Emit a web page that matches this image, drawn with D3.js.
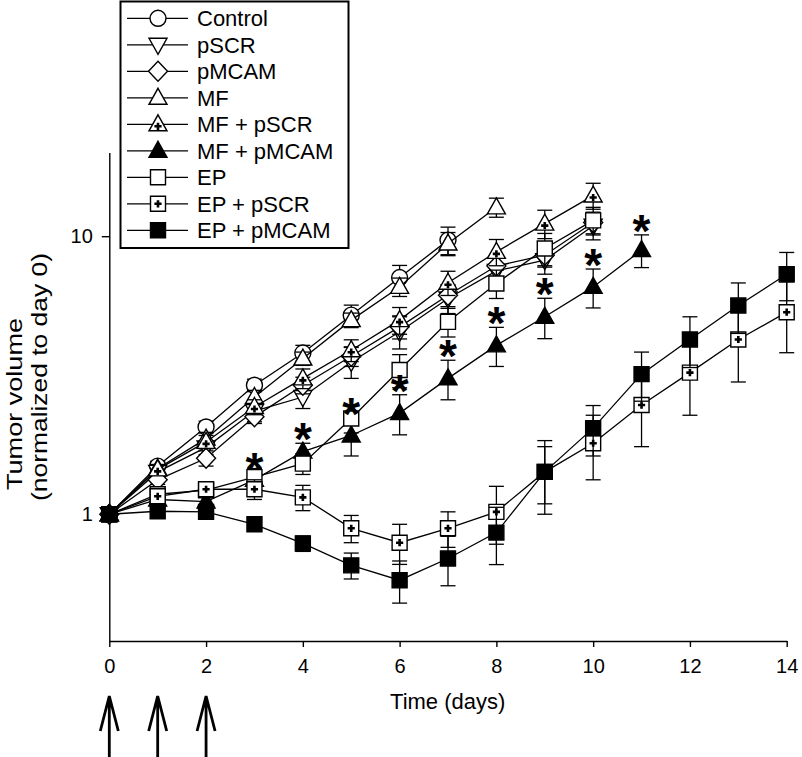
<!DOCTYPE html>
<html>
<head>
<meta charset="utf-8">
<script src="https://cdn.jsdelivr.net/npm/d3@7"></script>
<style>
  html, body { margin: 0; padding: 0; background: #fff; }
  svg { display: block; }
  text { font-family: "Liberation Sans", Arial, Helvetica, sans-serif; fill: #000; }
</style>
</head>
<body>
<svg id="chart" width="802" height="757"></svg>
<script>
// ---------------- data ----------------
const days = [0,1,2,3,4,5,6,7,8,9,10,11,12,13,14];
const seriesNames = ["Control","pSCR","pMCAM","MF","MF + pSCR","MF + pMCAM","EP","EP + pSCR","EP + pMCAM"];

const controlVals = [1, 1.49, 2.06, 2.91, 3.80, 5.20, 7.10, 9.68];
const controlErr  = [0, 0.06, 0.10, 0.15, 0.25, 0.45, 0.75, 1.10];

const pSCRVals = [1, 1.42, 1.74, 2.35, 2.64, 3.53, 4.53, 5.97, 7.50, 8.20, 10.9];
const pSCRErr  = [0, 0.05, 0.10, 0.20, 0.24, 0.45, 0.60, 0.70, 0.85, 0.90, 1.20];

const pMCAMVals = [1, 1.33, 1.59, 2.24, 2.91, 3.70, 4.72, 6.13, 7.81, 8.54, 11.2];
const pMCAMErr  = [0, 0.05, 0.10, 0.12, 0.20, 0.30, 0.45, 0.55, 0.70, 0.80, 1.00];

const mfVals = [1, 1.46, 1.87, 2.64, 3.63, 4.99, 6.57, 9.41, 12.7];
const mfErr  = [0, 0.05, 0.10, 0.15, 0.20, 0.30, 0.50, 0.90, 1.00];

const mfSCRVals = [1, 1.45, 1.82, 2.43, 3.08, 3.89, 4.99, 6.80, 8.78, 11.1, 14.0];
const mfSCRErr  = [0, 0.05, 0.10, 0.15, 0.25, 0.35, 0.55, 0.68, 0.95, 1.30, 1.50];

const mfMCAMVals = [1, 1.13, 1.11, 1.33, 1.68, 1.92, 2.31, 3.08, 4.05, 5.13, 6.57, 8.91];
const mfMCAMErr  = [0, 0.03, 0.04, 0.08, 0.12, 0.30, 0.38, 0.50, 0.65, 0.85, 1.05, 1.20];

const epVals = [1, 1.18, 1.22, 1.36, 1.52, 2.21, 3.30, 4.92, 6.76, 9.03, 11.4];
const epErr  = [0, 0.04, 0.05, 0.10, 0.13, 0.25, 0.45, 0.58, 0.79, 1.20, 1.30];

const epSCRVals = [1, 1.16, 1.23, 1.23, 1.15, 0.89, 0.79, 0.89, 1.02, 1.42, 1.80, 2.47, 3.23, 4.25, 5.33];
const epSCRErr  = [0, 0.04, 0.05, 0.10, 0.12, 0.10, 0.13, 0.13, 0.24, 0.33, 0.47, 0.72, 0.96, 1.26, 1.52];

const epMCAMVals = [1, 1.025, 1.02, 0.92, 0.785, 0.655, 0.579, 0.693, 0.859, 1.42, 2.04, 3.19, 4.25, 5.63, 7.30];
const epMCAMErr  = [0, 0.03, 0.03, 0.03, 0.05, 0.07, 0.10, 0.14, 0.20, 0.42, 0.42, 0.64, 0.88, 1.16, 1.44];

const sigDays = [3,4,5,6,7,8,9,10,11];       // asterisks over MF + pMCAM
const treatmentDays = [0,1,2];               // arrows under the axis
const xTicks = [0,2,4,6,8,10,12,14];
const yTicks = [1,10];

// marker styles per series (shape, filled, plus)
const markerStyles = [
  {shape:"circle", fill:false, plus:false},
  {shape:"tridown", fill:false, plus:false},
  {shape:"diamond", fill:false, plus:false},
  {shape:"triup", fill:false, plus:false},
  {shape:"triup", fill:false, plus:true},
  {shape:"triup", fill:true, plus:false},
  {shape:"square", fill:false, plus:false},
  {shape:"square", fill:false, plus:true},
  {shape:"square", fill:true, plus:false}
];
const valsList = [controlVals,pSCRVals,pMCAMVals,mfVals,mfSCRVals,mfMCAMVals,epVals,epSCRVals,epMCAMVals];
const errList  = [controlErr,pSCRErr,pMCAMErr,mfErr,mfSCRErr,mfMCAMErr,epErr,epSCRErr,epMCAMErr];

const series = seriesNames.map((name,i) => ({
  name,
  style: markerStyles[i],
  points: valsList[i].map((v,j) => ({day: days[j], v, e: errList[i][j]}))
}));

// ---------------- drawing ----------------
const svg = d3.select("#chart");
svg.append("rect").attr("width",802).attr("height",757).attr("fill","#fff");

const x = d3.scaleLinear().domain([0,14]).range([109.3, 786.7]);
const y = d3.scaleLog().domain([0.35, 20]).range([641, 152.5]);

// axes
const xAxis = svg.append("g").attr("transform","translate(0,641)")
  .call(d3.axisBottom(x).tickValues(xTicks).tickSize(6).tickSizeOuter(0).tickPadding(12).tickFormat(d3.format("d")));
const yAxis = svg.append("g").attr("transform","translate(109.3,0)")
  .call(d3.axisLeft(y).tickValues(yTicks).tickSize(7.5).tickSizeOuter(0).tickPadding(9).tickFormat(d3.format("d")));
[xAxis,yAxis].forEach(a => {
  a.selectAll("path.domain").attr("stroke","#000").attr("stroke-width",1.4);
  a.selectAll(".tick line").attr("stroke","#000").attr("stroke-width",1.4);
  a.selectAll(".tick text").attr("font-size",20).attr("fill","#000")
    .attr("font-family","Liberation Sans, Arial, sans-serif");
});

// axis titles
svg.append("text").attr("x",447.7).attr("y",708.5).attr("text-anchor","middle")
  .attr("font-size",22).text("Time (days)");
const yt = svg.append("g").attr("transform","rotate(-90)");
yt.append("text").attr("x",-404).attr("y",22).attr("text-anchor","middle")
  .attr("font-size",21.5).attr("textLength",172).attr("lengthAdjust","spacingAndGlyphs")
  .text("Tumor volume");
yt.append("text").attr("x",-377).attr("y",46.5).attr("text-anchor","middle")
  .attr("font-size",21.5).attr("textLength",248).attr("lengthAdjust","spacingAndGlyphs")
  .text("(normalized to day 0)");

// marker helpers
function shapePath(shape){
  switch(shape){
    case "triup":   return "M0,-9.5L9,6.5L-9,6.5Z";
    case "tridown": return "M0,9.5L9,-6.5L-9,-6.5Z";
    case "diamond": return "M0,-10L9.5,0L0,10L-9.5,0Z";
    case "square":  return "M-7.5,-7.5H7.5V7.5H-7.5Z";
  }
  return null;
}
function drawMarker(g, style){
  if (style.shape === "circle") {
    g.append("circle").attr("r",8);
  } else {
    g.append("path").attr("d",shapePath(style.shape));
  }
  g.selectAll("circle,path")
    .attr("fill", style.fill ? "#000" : "#fff")
    .attr("stroke","#000").attr("stroke-width",1.4);
  if (style.plus) {
    const cy = style.shape === "triup" ? 2 : 0;
    g.append("path").attr("d",`M-3.6,${cy}H3.6M0,${cy-3.6}V${cy+3.6}`)
      .attr("stroke","#000").attr("stroke-width",2.6).attr("fill","none");
  }
}

const line = d3.line().x(d => x(d.day)).y(d => y(d.v));

series.forEach(s => {
  const g = svg.append("g");
  g.append("path").datum(s.points).attr("d",line)
    .attr("fill","none").attr("stroke","#000").attr("stroke-width",1.3);
  // error bars
  const eb = g.selectAll("g.eb").data(s.points.filter(p => p.e > 0)).join("g");
  eb.append("line")
    .attr("x1",d=>x(d.day)).attr("x2",d=>x(d.day))
    .attr("y1",d=>y(d.v+d.e)).attr("y2",d=>y(Math.max(d.v-d.e,0.36)))
    .attr("stroke","#000").attr("stroke-width",1.3);
  eb.append("line")
    .attr("x1",d=>x(d.day)-7.5).attr("x2",d=>x(d.day)+7.5)
    .attr("y1",d=>y(d.v+d.e)).attr("y2",d=>y(d.v+d.e))
    .attr("stroke","#000").attr("stroke-width",1.3);
  eb.append("line")
    .attr("x1",d=>x(d.day)-7.5).attr("x2",d=>x(d.day)+7.5)
    .attr("y1",d=>y(d.v-d.e)).attr("y2",d=>y(d.v-d.e))
    .attr("stroke","#000").attr("stroke-width",1.3);
  // markers
  s.points.forEach(p => {
    const m = g.append("g").attr("transform",`translate(${x(p.day)},${y(p.v)})`);
    drawMarker(m, s.style);
  });
});

// significance asterisks over MF + pMCAM
const sigSeries = series[5];
sigDays.forEach(d => {
  const p = sigSeries.points.find(q => q.day === d);
  const top = y(p.v + p.e);
  svg.append("text").attr("x",x(d)).attr("y",top + 12)
    .attr("text-anchor","middle").attr("font-size",46).attr("font-weight","bold")
    .text("*");
});

// legend
const lg = svg.append("g");
lg.append("rect").attr("x",120.5).attr("y",1.5).attr("width",228).attr("height",246.5)
  .attr("fill","#fff").attr("stroke","#000").attr("stroke-width",2);
series.forEach((s,i) => {
  const ry = 18.3 + i*26.5;
  lg.append("line").attr("x1",127).attr("x2",188).attr("y1",ry).attr("y2",ry)
    .attr("stroke","#000").attr("stroke-width",1.3);
  const m = lg.append("g").attr("transform",`translate(158,${ry})`);
  drawMarker(m, s.style);
  lg.append("text").attr("x",197).attr("y",ry).attr("dy","0.36em")
    .attr("font-size",22).text(s.name);
});

// treatment arrows
treatmentDays.forEach(d => {
  const ax = x(d);
  svg.append("path")
    .attr("d",`M${ax},757V696M${ax-9},731L${ax},696L${ax+9},731`)
    .attr("fill","none").attr("stroke","#000").attr("stroke-width",2.8)
    .attr("stroke-linejoin","miter");
});
</script>
</body>
</html>
